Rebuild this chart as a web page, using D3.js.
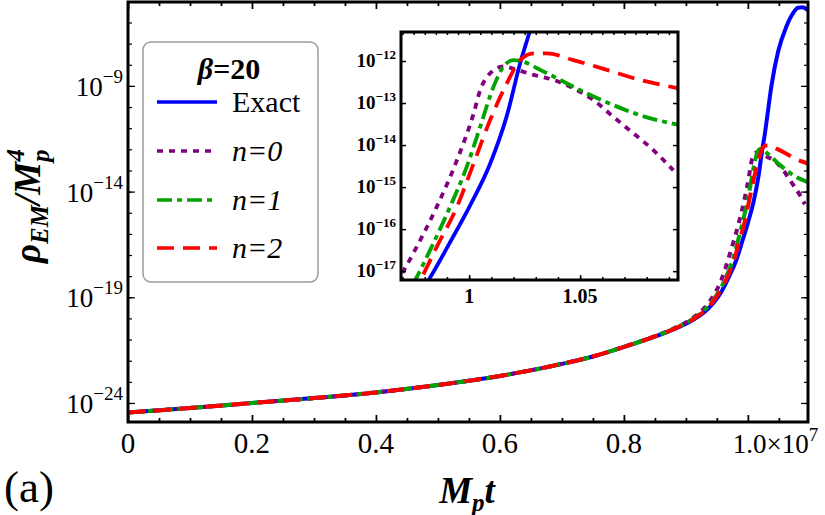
<!DOCTYPE html>
<html>
<head>
<meta charset="utf-8">
<script src="https://cdn.jsdelivr.net/npm/d3@7"></script>
</head>
<body style="margin:0;background:#fff">
<svg width="825" height="515" style="display:block"></svg>
<script>
// Series: [Mp t / 1e7, log10(rho_EM / Mp^4)]
const exact = [
  [0, -24.45], [0.1, -24.24], [0.2, -24.0], [0.3, -23.77], [0.4, -23.5],
  [0.5, -23.15], [0.6, -22.72], [0.7, -22.15], [0.75, -21.8], [0.8, -21.35],
  [0.85, -20.86], [0.88, -20.52], [0.91, -20.1], [0.93, -19.7], [0.945, -19.25],
  [0.958, -18.7], [0.97, -18.0], [0.9817, -17.21], [0.991, -16.35], [1.0001, -15.47],
  [1.0095, -14.44], [1.017, -13.3], [1.023, -12.05], [1.0275, -11.25], [1.031, -10.5],
  [1.038, -9.0], [1.049, -7.35], [1.062, -6.2], [1.072, -5.6], [1.081, -5.3],
  [1.088, -5.28], [1.097, -5.42]
];
const n0 = [
  [0, -24.45], [0.1, -24.24], [0.2, -24.0], [0.3, -23.77], [0.4, -23.5],
  [0.5, -23.15], [0.6, -22.72], [0.7, -22.15], [0.75, -21.8], [0.8, -21.34],
  [0.85, -20.84], [0.88, -20.48], [0.91, -20.0], [0.93, -19.5], [0.945, -18.9],
  [0.957, -18.2], [0.9689, -17.14], [0.9764, -16.42], [0.9854, -15.47], [0.9945, -14.36],
  [1.002, -13.25], [1.005, -12.69], [1.0095, -12.29], [1.0155, -12.13], [1.0215, -12.21],
  [1.029, -12.33], [1.038, -12.45], [1.047, -12.65], [1.056, -12.93], [1.065, -13.33],
  [1.074, -13.72], [1.083, -14.12], [1.092, -14.6]
];
const n1 = [
  [0, -24.45], [0.1, -24.24], [0.2, -24.0], [0.3, -23.77], [0.4, -23.5],
  [0.5, -23.15], [0.6, -22.72], [0.7, -22.15], [0.75, -21.8], [0.8, -21.35],
  [0.85, -20.85], [0.88, -20.5], [0.91, -20.05], [0.93, -19.6], [0.945, -19.1],
  [0.96, -18.35], [0.9757, -17.21], [0.9824, -16.5], [0.9914, -15.47], [0.9989, -14.52],
  [1.005, -13.56], [1.011, -12.61], [1.0155, -12.13], [1.02, -11.98], [1.0245, -12.02],
  [1.032, -12.21], [1.041, -12.45], [1.053, -12.77], [1.065, -13.05], [1.077, -13.29],
  [1.0943, -13.52], [1.097, -13.55]
];
const n2 = [
  [0, -24.45], [0.1, -24.24], [0.2, -24.0], [0.3, -23.77], [0.4, -23.5],
  [0.5, -23.15], [0.6, -22.72], [0.7, -22.15], [0.75, -21.8], [0.8, -21.35],
  [0.85, -20.85], [0.88, -20.51], [0.91, -20.07], [0.93, -19.65], [0.945, -19.15],
  [0.96, -18.45], [0.978, -17.21], [0.9854, -16.42], [0.9945, -15.47], [1.002, -14.44],
  [1.0095, -13.4], [1.017, -12.53], [1.023, -11.98], [1.029, -11.82], [1.035, -11.82],
  [1.047, -11.98], [1.062, -12.21], [1.077, -12.45], [1.0943, -12.65], [1.097, -12.68]
];

const seriesNames = ["Exact", "n=0", "n=1", "n=2"];
const seriesColors = ["#0000ff", "#800080", "#00a300", "#ff0000"];
const seriesDash = [null, "6,6", "15,5,5,5", "17,9"];
const seriesData = [exact, n0, n1, n2];

// Main axes ticks (exponents / values)
const mainYLabelExp = [-24, -19, -14, -9];
const mainXLabels = ["0", "0.2", "0.4", "0.6", "0.8"];
const mainXLabelVals = [0, 0.2, 0.4, 0.6, 0.8];
// Inset ticks
const insetYLabelExp = [-17, -16, -15, -14, -13, -12];
const insetXLabels = ["1", "1.05"];
const insetXLabelVals = [1, 1.05];

const FONT = "Liberation Serif";
const svg = d3.select("svg");

// every text gets the serif family set on itself
const addText = (parent) => parent.append("text").attr("font-family", FONT);

// Scales
const x = d3.scaleLinear().domain([0, 1.097]).range([128, 808]);
const y = d3.scaleLog().domain([Math.pow(10, -24.9), Math.pow(10, -5.03)]).range([422, 2]);
const xi = d3.scaleLinear().domain([0.9693, 1.0941]).range([401, 678]);
const yi = d3.scaleLog().domain([Math.pow(10, -17.21), Math.pow(10, -11.31)]).range([280, 32]);

const defs = svg.append("defs");
defs.append("clipPath").attr("id", "clip-main").append("rect")
  .attr("x", 128).attr("y", 2).attr("width", 680).attr("height", 420);
defs.append("clipPath").attr("id", "clip-inset").append("rect")
  .attr("x", 401).attr("y", 32).attr("width", 277).attr("height", 248);

const drawCurves = (g, xs, ys, width) => {
  const line = d3.line()
    .x((d) => xs(d[0]))
    .y((d) => ys(Math.pow(10, d[1])))
    .curve(d3.curveMonotoneX);
  seriesData.forEach((data, i) => {
    g.append("path")
      .attr("d", line(data))
      .attr("fill", "none")
      .attr("stroke", seriesColors[i])
      .attr("stroke-width", width)
      .attr("stroke-dasharray", seriesDash[i]);
  });
};

// Main curves
drawCurves(svg.append("g").attr("clip-path", "url(#clip-main)"), x, y, 4);

// Main frame ticks
const addAxis = (axis, tx, ty, w) => {
  const g = svg.append("g").attr("transform", `translate(${tx},${ty})`).call(axis);
  g.select(".domain").remove();
  g.selectAll("line").attr("stroke", "#000").attr("stroke-width", w);
  g.selectAll("text").remove();
  return g;
};

const xMinor = d3.range(0, 1.0951, 0.05).filter((v) => Math.abs(Math.round(v * 5) - v * 5) > 1e-6);
const xMajor = d3.range(0, 1.01, 0.2);
const yDecades = d3.range(-24, -5).map((e) => Math.pow(10, e));
const yMajor = mainYLabelExp.map((e) => Math.pow(10, e));

addAxis(d3.axisBottom(x).tickValues(xMinor).tickSize(-4), 0, 422, 1.8);
addAxis(d3.axisBottom(x).tickValues(xMajor).tickSize(-7), 0, 422, 1.8);
addAxis(d3.axisTop(x).tickValues(xMinor).tickSize(-4), 0, 2, 1.8);
addAxis(d3.axisTop(x).tickValues(xMajor).tickSize(-7), 0, 2, 1.8);
addAxis(d3.axisLeft(y).tickValues(yDecades).tickSize(-4), 128, 0, 1.2);
addAxis(d3.axisLeft(y).tickValues(yMajor).tickSize(-7), 128, 0, 1.2);
addAxis(d3.axisRight(y).tickValues(yDecades).tickSize(-4), 808, 0, 1.2);
addAxis(d3.axisRight(y).tickValues(yMajor).tickSize(-7), 808, 0, 1.2);

svg.append("rect")
  .attr("x", 128).attr("y", 2).attr("width", 680).attr("height", 420)
  .attr("fill", "none").attr("stroke", "#000").attr("stroke-width", 3);

// Main tick labels
mainXLabels.forEach((lab, i) => {
  addText(svg)
    .attr("x", x(mainXLabelVals[i])).attr("y", 453)
    .attr("text-anchor", "middle").attr("font-size", 29)
    .text(lab);
});
const lastX = addText(svg)
  .attr("x", x(1.0) - 15).attr("y", 453).attr("font-size", 27);
lastX.append("tspan").text("1.0×10");
lastX.append("tspan").attr("font-size", 19).attr("dy", -12).text("7");

mainYLabelExp.forEach((e) => {
  const t = addText(svg)
    .attr("x", 123).attr("y", y(Math.pow(10, e)) + 10)
    .attr("text-anchor", "end").attr("font-size", 27);
  t.append("tspan").text("10");
  t.append("tspan").attr("font-size", 19).attr("dy", -13).text("−" + Math.abs(e));
});

// Axis titles
const yTitle = addText(svg)
  .attr("transform", "translate(40,206) rotate(-90)")
  .attr("text-anchor", "middle")
  .attr("font-weight", "bold").attr("font-style", "italic").attr("font-size", 37);
yTitle.append("tspan").text("ρ");
yTitle.append("tspan").attr("font-size", 25).attr("dy", 8).text("EM");
yTitle.append("tspan").attr("dy", -8).text("/M");
yTitle.append("tspan").attr("font-size", 25).attr("dy", 9).text("p");
yTitle.append("tspan").attr("font-size", 25).attr("dx", -12).attr("dy", -25).text("4");

const xTitle = addText(svg)
  .attr("x", 467).attr("y", 503).attr("text-anchor", "middle")
  .attr("font-weight", "bold").attr("font-style", "italic").attr("font-size", 37);
xTitle.append("tspan").text("M");
xTitle.append("tspan").attr("font-size", 25).attr("dy", 8).text("p");
xTitle.append("tspan").attr("dy", -8).text("t");

addText(svg).attr("x", 4).attr("y", 502).attr("font-size", 45).text("(a)");

// Legend
const legend = svg.append("g");
legend.append("rect")
  .attr("x", 143).attr("y", 42).attr("width", 175).attr("height", 240).attr("rx", 8)
  .attr("fill", "#fff").attr("stroke", "#9a9a9a").attr("stroke-width", 1.5);
const lt = addText(legend).attr("x", 229).attr("y", 79)
  .attr("text-anchor", "middle").attr("font-weight", "bold").attr("font-size", 30);
lt.append("tspan").attr("font-style", "italic").text("β");
lt.append("tspan").text("=20");
const legendY = [102, 151, 200, 248];
seriesNames.forEach((name, i) => {
  legend.append("line")
    .attr("x1", 157).attr("x2", 217).attr("y1", legendY[i]).attr("y2", legendY[i])
    .attr("stroke", seriesColors[i]).attr("stroke-width", 3.4)
    .attr("stroke-dasharray", seriesDash[i]);
  addText(legend)
    .attr("x", 232).attr("y", legendY[i] + 10).attr("font-size", 30)
    .attr("font-style", i === 0 ? "normal" : "italic")
    .text(name);
});

// Inset
svg.append("rect").attr("x", 401).attr("y", 32).attr("width", 277).attr("height", 248)
  .attr("fill", "#fff");
drawCurves(svg.append("g").attr("clip-path", "url(#clip-inset)"), xi, yi, 3.8);

const iDec = insetYLabelExp.map((e) => Math.pow(10, e));
addAxis(d3.axisBottom(xi).tickValues(d3.range(0.97, 1.094, 0.01)).tickSize(-3), 0, 280, 1.5);
addAxis(d3.axisBottom(xi).tickValues(insetXLabelVals).tickSize(-5), 0, 280, 1.5);
addAxis(d3.axisTop(xi).tickValues(d3.range(0.97, 1.094, 0.005)).tickSize(-3), 0, 32, 1.5);
addAxis(d3.axisLeft(yi).tickValues(iDec).tickSize(-5), 401, 0, 1.5);
addAxis(d3.axisRight(yi).tickValues(iDec).tickSize(-5), 678, 0, 1.5);

svg.append("rect").attr("x", 401).attr("y", 32).attr("width", 277).attr("height", 248)
  .attr("fill", "none").attr("stroke", "#000").attr("stroke-width", 3);

insetXLabels.forEach((lab, i) => {
  addText(svg)
    .attr("x", xi(insetXLabelVals[i])).attr("y", 303)
    .attr("text-anchor", "middle").attr("font-weight", "bold").attr("font-size", 20)
    .text(lab);
});
insetYLabelExp.forEach((e) => {
  const t = addText(svg)
    .attr("x", 396).attr("y", yi(Math.pow(10, e)) + 6)
    .attr("text-anchor", "end").attr("font-weight", "bold").attr("font-size", 19);
  t.append("tspan").text("10");
  t.append("tspan").attr("font-size", 13).attr("dy", -8).text("−" + Math.abs(e));
});
</script>
</body>
</html>
